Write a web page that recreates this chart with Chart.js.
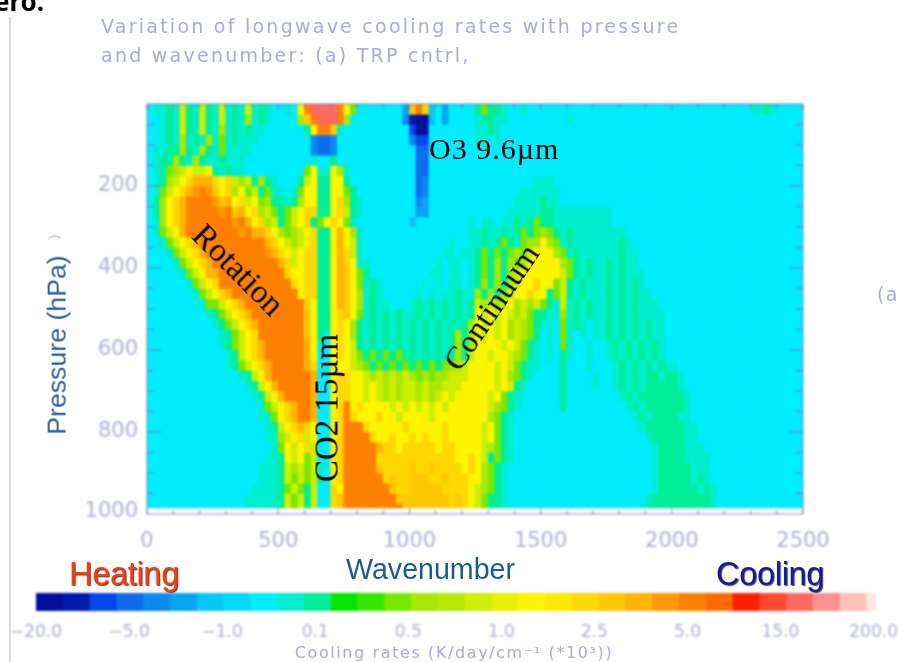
<!DOCTYPE html>
<html>
<head>
<meta charset="utf-8">
<title>Longwave cooling rates</title>
<script src="https://cdn.jsdelivr.net/npm/chart.js@4/dist/chart.umd.min.js"></script>
<style>
  html, body { margin: 0; padding: 0; background: #fff; }
  #page { position: relative; width: 901px; height: 662px; overflow: hidden; background: #fff; }
  canvas { position: absolute; display: block; filter: blur(1px); }
  #mapChart { left: 0; top: 0; }
  #barChart { left: 0; top: 585px; }
  .txt { position: absolute; white-space: nowrap; line-height: 1; filter: blur(0.4px); }
  .lav { font-family: "DejaVu Sans", sans-serif; color: #a9abd8; }
  .note { font-family: "Liberation Serif", serif; color: #000; }
  .sans { font-family: "Liberation Sans", sans-serif; }
  #rule { position: absolute; left: 9px; top: 17px; width: 2px; height: 645px; background: #dcdcdc; }
</style>
</head>
<body>
<div id="page">
  <canvas id="mapChart" width="901" height="662"></canvas>
  <canvas id="barChart" width="901" height="77"></canvas>
  <div id="rule"></div>

  <div class="txt" style="left:-6px;top:-17px;font:bold 26px 'Noto Sans',sans-serif;color:#000;">ero.</div>
  <div class="txt lav" style="left:101px;top:17px;font-size:19px;letter-spacing:2.25px;">Variation of longwave cooling rates with pressure</div>
  <div class="txt lav" style="left:101px;top:46px;font-size:19px;letter-spacing:2.25px;">and wavenumber: (a) TRP cntrl,</div>
  <div class="txt lav" style="left:877px;top:285px;font-size:19px;letter-spacing:1.4px;">(a</div>

  <div class="txt sans" style="left:57px;top:345px;font-size:26.7px;color:#2f5f9c;transform:translate(-50%,-50%) rotate(-90deg);">Pressure (hPa)</div>
  <div class="txt sans" style="left:53px;top:237px;font-size:13px;color:#b8b8c4;transform:translate(-50%,-50%) rotate(-90deg);">)</div>
  <div class="txt sans" style="left:346px;top:555px;font-size:28.6px;color:#1d5a8e;">Wavenumber</div>
  <div class="txt sans" style="left:69px;top:558px;font-size:32.5px;color:#e8441c;letter-spacing:-0.3px;text-shadow:1px 1px 1px #8a2a10;">Heating</div>
  <div class="txt sans" style="left:716px;top:558px;font-size:32.5px;color:#1c1c86;letter-spacing:-0.3px;text-shadow:1px 1px 1px #3a3aa0;">Cooling</div>

  <div class="txt note" style="left:429px;top:134px;font-size:30px;letter-spacing:1px;">O3 9.6µm</div>
  <div class="txt note" style="left:238px;top:270px;font-size:33px;transform:translate(-50%,-50%) rotate(45deg);">Rotation</div>
  <div class="txt note" style="left:327px;top:408px;font-size:33px;transform:translate(-50%,-50%) rotate(-90deg);">CO2 15µm</div>
  <div class="txt note" style="left:491px;top:307px;font-size:32px;transform:translate(-50%,-50%) rotate(-56deg);">Continuum</div>

  <div class="txt lav" style="left:454px;top:645px;font-size:16px;letter-spacing:1.6px;transform:translateX(-50%);">Cooling rates (K/day/cm⁻¹ (*10³))</div>
</div>

<script>
/* DATA */

// colour bar, one entry per level, index = level in coolingRows
const levelColors = [
  "#000f9a","#001ab0","#0048e8","#0f6cf0","#0a88f0","#08a4f0","#05c6f5","#00d8f8",
  "#00ecff","#00eed0","#00ee99","#00e800","#33e800","#77e800","#a8e800","#b8e800",
  "#ccee00","#e6f000","#fdf500","#ffe800","#ffd800","#ffc800","#ffb400","#ff9800",
  "#ff8000","#ff6a00","#ff2000","#ff4a30","#ff6a60","#ff9090","#ffc0b8","#ffe6e0"
];
const levelWidths = [1,1,1,1,1,1,1,1,1,1,1,1,1,1,1,1,1,1,1,1,1,1,1,1,1,1,1,1,1,1,1,0.35];
const colorbarLabels = ["−20.0","−5.0","−1.0","0.1","0.5","1.0","2.5","5.0","15.0","200.0"];
const colorbarTickAt = [0,3.48,6.95,10.43,13.9,17.38,20.85,24.33,27.8,31.28];

const pressureTicks = [50,100,150,200,250,300,350,400,450,500,550,600,650,700,750,800,850,900,950];
const wavenumberTicks = [0,100,200,300,400,500,600,700,800,900,1000,1100,1200,1300,1400,1500,
  1600,1700,1800,1900,2000,2100,2200,2300,2400,2500];

// bottom edge of every row of cells, hPa
const rowBottoms = [25,50,75,100,125,150,175,200,225,250,275,300,325,350,375,400,425,450,475,500,
  525,550,575,600,625,650,675,700,725,750,775,800,825,850,875,900,925,950,975,985];

// columns are 25 cm-1 wide, 10 columns per group, one base-32 level per cell
const coolingRows = [
"899a9ga9ga 9g9a9g9a98 898iosssso id88888885 lok6858888 adaa988988 8888888888 8888888888 8888888888 8899a98888",
"889a9ga9ga 9g9a9e9a98 888elossso e888888884 1006858888 9aa9988888 8888988888 8888888888 8888888888 8888888888",
"889a9ga9ga 9e9a9a9988 8888aiool9 8888888888 2008888888 99a9888888 8888888888 8888888888 8888888888 8888888888",
"889a9e9a9e 9d9a999888 8888843348 8888888888 4228888888 9989888888 8888888888 8888888888 8888888888 8888888888",
"899aaea9ea 9d99998888 8888843348 8888888888 8338888888 8888888888 8888888888 8888888888 8888888888 8888888888",
"89aaea9ea9 9a99988888 88888988a8 8888888888 8338888888 8888888888 8888888888 8888888888 8888888888 8888888888",
"89adegiggi a9a9988888 8888di99ie 9888888888 8338888888 8888888888 8888888888 8888888888 8888888888 8888888888",
"89aegikmmm kikgegaea9 888agiaaii a888888888 8348888888 8888888889 9988888888 8888888888 8888888888 8888888888",
"89dgikmnon likeidgad9 989diiaaii da88888888 8348888888 8888888999 9998888888 8888888888 8888888888 8888888888",
"8aeikmoooo nlmikgidea a9aeiiaaik ea98888888 8458888888 8888889999 a998888888 8888888888 8888888888 8888888888",
"8aeikmoooo onolmikegd adgikkaaik ga98888888 8558888888 8888899999 aa99999999 9888888888 8888888888 8888888888",
"89eikmoooo ooonomikeg adgikadik id98888888 8688888888 9899899a9a daa9999999 9988888888 8888888888 8888888888",
"89dgimoooo oooonommki edegikaaim ie98888888 8888888889 9a99a9adad eda9a99999 9998888888 8888888888 8888888888",
"889dgikmoo oooooooomk igegikaaim ig98888888 8888889889 9a9ada9dee ied9a99999 99a9888888 8888888888 8888888888",
"8889dgikmo oooooooonm kigikkaaim kg98888888 8888899899 adadadedgi iied9a9999 99a9988888 8888888888 8888888888",
"88889dgikm oooooooooo mkgikkaaim ki99888888 8888989989 adaeaedeii iiieda9a99 a9a9988888 8888888888 8888888888",
"888889dgim mooooooooo okiikkaaim lida888888 8889989989 adaeaegiii iiigda9a99 a9a9998888 8888888888 8888888888",
"8888889dgi kooooooooo ookikkaaim lid9a98888 8898989989 aeaeaegiik iidga9a999 a9a9a98888 8888888888 8888888888",
"88888889dg ikmooooooo oooikkaaim lie9a98888 8989899a99 eaeaegiiki iadga9a999 a9a9a99888 8888888888 8888888888",
"888888889d dgikmooooo ooookiaaim lie9a99888 9a9a9a9a9a gegegiegeg da9g9a9a99 a9a9a99988 8888888888 8888888888",
"8888888889 adgikmoooo ooooliaaik lid9a9a9a9 9a9a9a9a9a igigigegda a99e9a9a99 a9a9a99998 8888888888 8888888888",
"8888888888 9adgikmooo ooooliaaik iea9a9a9a9 a9a9a9a9ae igigiegeda 998d9a9899 a9a9a9a998 8888888888 8888888888",
"8888888888 89adgikooo oooolia9ik iea9a9a9a9 a9a9a9aeae igigiegeda 898d989899 a9a9a9a998 8888888888 8888888888",
"8888888888 89adgikmoo oooomi98ik iga9a9a9a9 a9a9a9aeae iiiigigda9 898d988988 9a9a9a9a98 8888888888 8888888888",
"8888888888 889agikmoo oooomi88ik igdadadada a9a9a9aeag iigiigeda9 898a988988 9a9a9a9a98 8888888888 8888888888",
"8888888888 889adgikmo oooomk88ii igedadadad adadadeegi iiigigda99 888a888988 89a9a9a9a9 9888888888 8888888888",
"8888888888 88889agimo ooooom88ik kiigegegeg ededeegggi iiigieda98 888a888898 89a9a9aa9a a988888888 8888888888",
"8888888888 888889agim ooooom88ik kiigigegeg gegeegggii iiigiga988 888a888898 89a9a9aaaa a988888888 8888888888",
"8888888888 8888889agi moooom88ik kiigigegeg gegegigiii iigida9888 888a888888 889a9aaaaa aa98888888 8888888888",
"8888888888 88888889dg ikmoom88ik oikiiiigig igigigiiii iigeda9888 888a888888 8889a9aaaa aa98888888 8888888888",
"8888888888 888888899d ikmoom88ik okiiikiigi iiigiiiiii iieda98888 8888888888 88889a9aaa a998888888 8888888888",
"8888888888 888888889a gikmki88ik oookiiiiik iiiiikiiii igida98888 8888888888 888889aaaa aa99888888 8888888888",
"8888888888 8888888899 egikgi88ik ooookiikii kikiikiiii igida98888 8888888888 8888889aaa aa99888888 8888888888",
"8888888888 8888888889 digikg88ik ooooomkkik kkkkikkiii igeda98888 8888888888 88888889aa aa99988888 8888888888",
"8888888888 8888888899 aigidg88ik oooookkkkk kkkkkkkiik igada98888 8888888888 88888889aa aa99998888 8888888888",
"8888888888 8888888999 agegdg98ik ooooolkkkk lkklkkkkik ieda988888 8888888888 88888889aa aaa9998888 8888888888",
"8888888888 8888888999 agdgdg98ik ooooooklkk lllkklkkki ieda988888 8888888888 88888889aa aaa9a98888 8888888888",
"8888888888 8888889999 adgdag88ki ooooooolkk lllllkkkki geda988888 8888888888 88888889aa aaaa9a9888 8888888888",
"8888888888 8888899999 agdgag88kl ooooooooll llllllklki gdaa988888 8888888888 8888889aaa aaaaaa9888 8888888888",
"8888888888 8888899999 agdgag88kl oooooooool llllllklki gdaa998888 8888888888 888889aaaa aaaaaa9888 8888888888"
];

/* MAP */

const tickColor = "rgba(112,118,176,0.85)";
const labelColor = "#adb0d4";

const columns = [];
for(let i = 0; i < 100; i++){
  columns.push(i * 25);
}

const rowDatasets = coolingRows.map((row, r) => {

  const cells = row.replace(/ /g, "").padEnd(100, "8").split("");
  const top = r === 0 ? 0 : rowBottoms[r - 1];

  return {
    data: cells.map(() => rowBottoms[r] - top),
    backgroundColor: cells.map(c => levelColors[parseInt(c, 32)]),
    borderWidth: 0,
    barPercentage: 1,
    categoryPercentage: 1
  };

});

// IDL style box: ticks point inward on all four sides
const boxTicks = {
  id: "boxTicks",
  afterDatasetsDraw(chart){

    const {ctx, chartArea: area, scales} = chart;
    const xAxis = scales.xTicks;
    const yAxis = scales.y;

    ctx.save();
    ctx.strokeStyle = tickColor;
    ctx.lineWidth = 1;
    ctx.beginPath();
    ctx.rect(area.left, area.top, area.right - area.left, area.bottom - area.top);

    wavenumberTicks.forEach(v => {
      const x = xAxis.getPixelForValue(v);
      const len = v % 500 === 0 ? 6 : 4;
      ctx.moveTo(x, area.top);
      ctx.lineTo(x, area.top + len);
      ctx.moveTo(x, area.bottom);
      ctx.lineTo(x, area.bottom - len);
    });

    pressureTicks.forEach(v => {
      const y = yAxis.getPixelForValue(v);
      const len = v % 200 === 0 ? 14 : 7;
      ctx.moveTo(area.left, y);
      ctx.lineTo(area.left + len, y);
      ctx.moveTo(area.right, y);
      ctx.lineTo(area.right - len, y);
    });

    ctx.stroke();
    ctx.restore();

  }
};

new Chart(document.getElementById("mapChart"), {
  type: "bar",
  data: { labels: columns, datasets: rowDatasets },
  plugins: [boxTicks],
  options: {
    responsive: false,
    animation: false,
    layout: { padding: { left: 0, top: 104, right: 98, bottom: 110 } },
    plugins: { legend: { display: false }, tooltip: { enabled: false } },
    scales: {
      x: { stacked: true, display: false },
      xTicks: {
        type: "linear",
        axis: "x",
        position: "bottom",
        offset: false,
        min: 0,
        max: 2500,
        grid: { display: false },
        border: { display: false },
        afterBuildTicks: axis => {
          axis.ticks = wavenumberTicks.map(value => ({ value }));
        },
        afterFit: axis => { axis.height = 38; },
        ticks: {
          autoSkip: false,
          maxRotation: 0,
          padding: 7,
          color: labelColor,
          font: { family: "DejaVu Sans", size: 21 },
          callback: v => v % 500 === 0 ? String(v) : ""
        }
      },
      y: {
        stacked: true,
        reverse: true,
        min: 0,
        max: 1000,
        grid: { display: false },
        border: { display: false },
        afterBuildTicks: axis => {
          // the 1000 label sits a little above the axis end in the original
          axis.ticks = [200, 400, 600, 800, 993].map(value => ({ value }));
        },
        afterFit: axis => { axis.width = 147; },
        ticks: {
          autoSkip: false,
          padding: 1,
          color: labelColor,
          font: { family: "DejaVu Sans", size: 21 },
          callback: v => v === 993 ? "1000" : String(v)
        }
      }
    }
  }
});

/* COLOUR BAR */

new Chart(document.getElementById("barChart"), {
  type: "bar",
  data: {
    labels: ["levels"],
    datasets: levelColors.map((color, i) => ({
      data: [levelWidths[i]],
      backgroundColor: color,
      borderWidth: 0,
      barPercentage: 1,
      categoryPercentage: 1
    }))
  },
  options: {
    indexAxis: "y",
    responsive: false,
    animation: false,
    layout: { padding: { left: 36, top: 8, right: 24, bottom: 0 } },
    plugins: { legend: { display: false }, tooltip: { enabled: false } },
    scales: {
      y: { stacked: true, display: false },
      x: {
        stacked: true,
        min: 0,
        max: 31.35,
        grid: { display: false },
        border: { display: false },
        afterBuildTicks: axis => {
          axis.ticks = colorbarTickAt.map(value => ({ value }));
        },
        afterFit: axis => { axis.height = 51; },
        ticks: {
          autoSkip: false,
          maxRotation: 0,
          padding: 3,
          color: labelColor,
          font: { family: "DejaVu Sans", size: 17 },
          callback: (v, i) => colorbarLabels[i]
        }
      }
    }
  }
});
</script>
</body>
</html>
